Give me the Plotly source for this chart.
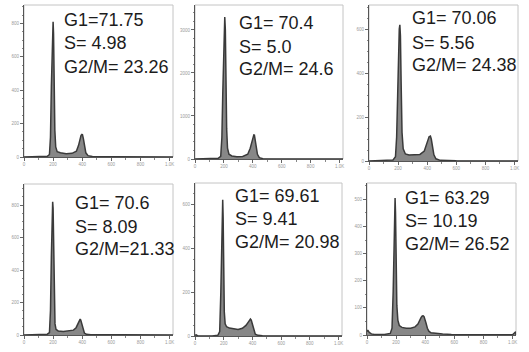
import plotly.graph_objects as go

W, H = 529, 352

# ---- data ----
p1_x = [0, 120, 160, 175, 182, 188, 193, 197, 200, 203, 207, 212, 218, 228, 250, 290, 330, 360, 375, 385, 392, 398, 402, 408, 415, 425, 440, 470, 600, 1024]
p1_y = [0, 2, 4, 15, 120, 420, 700, 800, 810, 740, 450, 160, 60, 32, 25, 20, 22, 35, 70, 110, 130, 135, 133, 110, 65, 25, 8, 3, 1, 0]

p2_x = [0, 120, 160, 178, 186, 192, 198, 202, 206, 210, 214, 219, 225, 235, 255, 290, 330, 365, 382, 393, 401, 407, 411, 416, 423, 432, 445, 470, 600, 1024]
p2_y = [0, 5, 15, 60, 500, 1500, 2700, 3200, 3300, 3000, 1800, 700, 250, 110, 70, 55, 60, 110, 250, 420, 530, 560, 555, 470, 290, 110, 30, 8, 2, 0]

p3_x = [0, 120, 165, 182, 190, 197, 203, 208, 212, 216, 221, 227, 235, 250, 275, 310, 350, 380, 395, 405, 413, 418, 422, 428, 436, 446, 460, 490, 600, 1024]
p3_y = [0, 2, 5, 20, 110, 300, 500, 600, 620, 570, 350, 130, 55, 32, 27, 27, 30, 45, 70, 95, 110, 114, 113, 100, 65, 28, 10, 3, 1, 0]

p4_x = [0, 120, 160, 175, 182, 188, 193, 197, 200, 204, 208, 213, 220, 235, 270, 310, 340, 358, 368, 376, 382, 386, 390, 396, 404, 415, 430, 460, 600, 640, 660, 1024]
p4_y = [0, 2, 5, 15, 150, 480, 760, 820, 780, 520, 200, 70, 35, 25, 22, 24, 30, 45, 65, 85, 96, 98, 92, 70, 35, 12, 4, 2, 1, 4, 1, 0]

p5_x = [0, 8, 20, 120, 160, 172, 180, 186, 190, 193, 196, 200, 204, 210, 220, 240, 270, 300, 330, 355, 370, 380, 386, 392, 400, 410, 420, 440, 470, 1024]
p5_y = [3, 5, 0, 0, 4, 20, 200, 480, 610, 620, 540, 280, 110, 55, 42, 36, 32, 30, 35, 48, 62, 73, 77, 72, 50, 22, 8, 3, 1, 0]

p6_x = [0, 5, 15, 30, 50, 120, 160, 172, 180, 186, 190, 193, 196, 200, 205, 212, 222, 240, 270, 300, 330, 350, 362, 372, 380, 386, 392, 398, 405, 415, 425, 440, 470, 520, 580, 650, 1000, 1015, 1022, 1024]
p6_y = [12, 18, 10, 4, 2, 2, 6, 25, 160, 400, 495, 505, 450, 260, 110, 55, 35, 28, 25, 25, 30, 40, 55, 65, 70, 71, 68, 60, 45, 25, 14, 8, 6, 4, 2, 1, 1, 8, 12, 0]

panels_x = [p1_x, p2_x, p3_x, p4_x, p5_x, p6_x]
panels_y = [p1_y, p2_y, p3_y, p4_y, p5_y, p6_y]

y_tickvals = [
    [0, 200, 400, 600, 800],
    [0, 1000, 2000, 3000],
    [0, 200, 400, 600],
    [0, 200, 400, 600, 800],
    [0, 200, 400, 600],
    [0, 100, 200, 300, 400, 500],
]
y_tops = [910, 3580, 710, 930, 696, 560]

x_tickvals = [0, 200, 400, 600, 800, 1000]
x_ticktext = ["0", "200", "400", "600", "800", "1.0K"]

g1_labels = ["G1=71.75", "G1= 70.4", "G1= 70.06", "G1= 70.6", "G1= 69.61", "G1= 63.29"]
s_labels = ["S= 4.98", "S= 5.0", "S= 5.56", "S= 8.09", "S= 9.41", "S= 10.19"]
g2m_labels = ["G2/M= 23.26", "G2/M= 24.6", "G2/M= 24.38", "G2/M=21.33", "G2/M= 20.98", "G2/M= 26.52"]

# ---- layout geometry (pixels) ----
frames = [  # left, right, top, bottom
    (24, 173, 5, 157),
    (195, 343, 5, 159),
    (369, 518, 5, 161),
    (24, 173, 184, 335),
    (195, 342, 183, 336),
    (367, 516, 183, 335),
]
text_pos = [  # left x, line centre ys
    (62, (20, 43, 67)),
    (237, (23, 47, 69)),
    (410, (18, 43, 65)),
    (73, (203, 227, 249)),
    (233, (196, 219, 242)),
    (403, (198, 221, 244)),
]

fig = go.Figure()
layout = dict(
    width=W, height=H,
    margin=dict(l=0, r=0, t=0, b=0, pad=0, autoexpand=False),
    paper_bgcolor="white", plot_bgcolor="white",
    showlegend=False,
    annotations=[], shapes=[],
)

tickfont = dict(family="Liberation Sans, Arial, sans-serif", size=4.5, color="#9a9a9a")

for i in range(6):
    n = "" if i == 0 else str(i + 1)
    l, r, t, b = frames[i]
    fig.add_trace(go.Scatter(
        x=panels_x[i], y=panels_y[i], mode="lines",
        line=dict(color="#3a3a3a", width=1.5),
        fill="tozeroy", fillcolor="#878787",
        xaxis="x" + n, yaxis="y" + n, hoverinfo="skip",
    ))
    layout["xaxis" + n] = dict(
        domain=[l / W, r / W], anchor="y" + n, range=[0, 1024],
        showgrid=False, zeroline=False, automargin=False,
        showline=True, linecolor="#555555", linewidth=1,
        ticks="outside", ticklen=3, tickcolor="#666666",
        tickvals=x_tickvals, ticktext=x_ticktext, tickfont=tickfont,
        minor=dict(ticks="outside", ticklen=1.5, tickcolor="#888888", nticks=4),
        fixedrange=True,
    )
    layout["yaxis" + n] = dict(
        domain=[1 - b / H, 1 - t / H], anchor="x" + n, range=[0, y_tops[i]],
        showgrid=False, zeroline=False, automargin=False,
        showline=True, linecolor="#555555", linewidth=1,
        ticks="outside", ticklen=3, tickcolor="#666666",
        tickvals=y_tickvals[i], tickfont=tickfont,
        minor=dict(ticks="outside", ticklen=1.5, tickcolor="#888888", nticks=5),
        fixedrange=True,
    )
    layout["shapes"].append(dict(
        type="rect", xref="paper", yref="paper",
        x0=l / W, x1=r / W, y0=1 - b / H, y1=1 - t / H,
        line=dict(color="#c4c4c4", width=1), layer="below",
    ))
    tx, ys = text_pos[i]
    for label, yy in zip([g1_labels[i], s_labels[i], g2m_labels[i]], ys):
        layout["annotations"].append(dict(
            text=label, xref="paper", yref="paper",
            x=tx / W, y=1 - yy / H, xanchor="left", yanchor="middle",
            showarrow=False,
            font=dict(family="Liberation Sans, Arial, sans-serif", size=18, color="#1c1c1c"),
        ))

fig.update_layout(**layout)
fig.write_html(
    "out.html",
    config={"displayModeBar": False, "staticPlot": True},
    post_script="document.body.style.margin='0';document.body.style.padding='0';",
)
